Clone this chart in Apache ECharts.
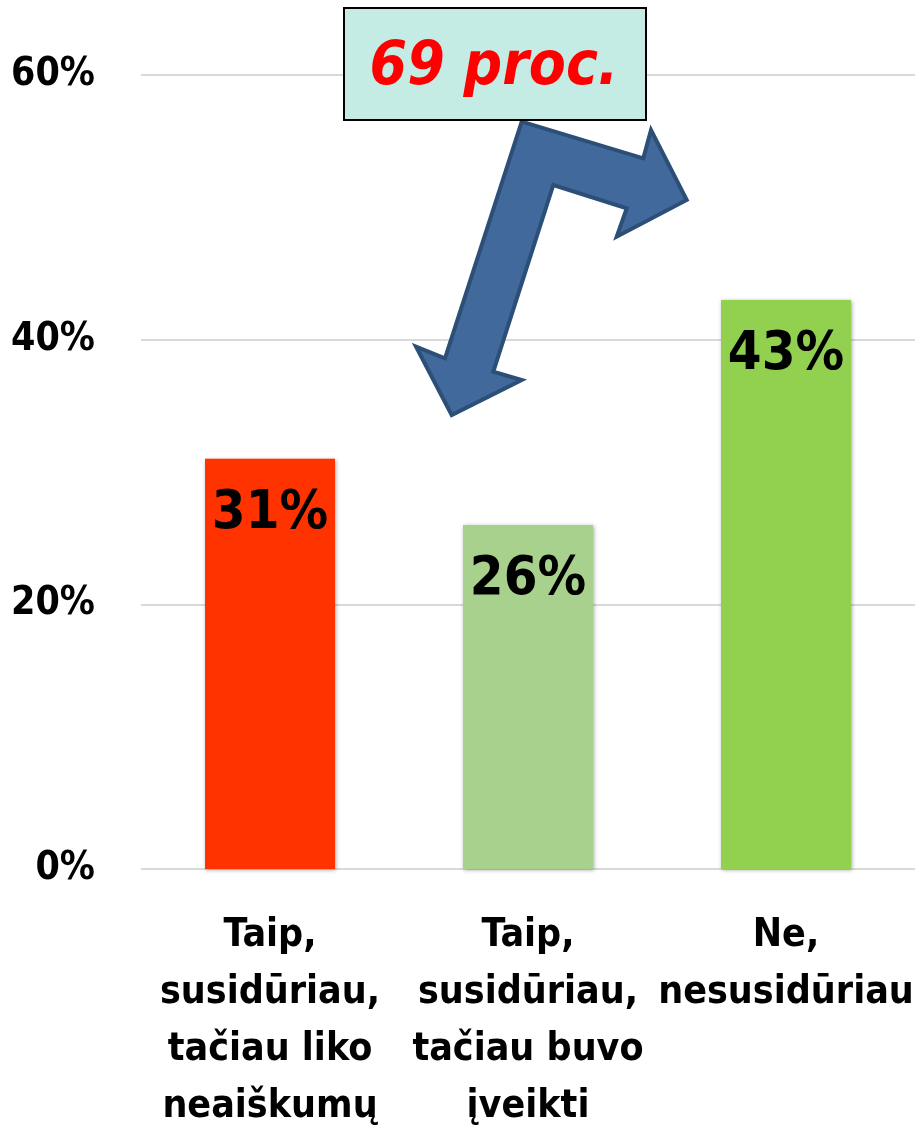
<!DOCTYPE html>
<html>
<head>
<meta charset="utf-8">
<script src="https://cdn.jsdelivr.net/npm/echarts@6/dist/echarts.min.js"></script>
<style>
  html, body { margin: 0; padding: 0; background: #fff; }
  #chart { width: 921px; height: 1131px; }
</style>
</head>
<body>
<div id="chart"></div>
<script>
  // kategorijos ir reikšmės
  var categories = [
    'Taip,\nsusidūriau,\ntačiau liko\nneaiškumų',
    'Taip,\nsusidūriau,\ntačiau buvo\nįveikti',
    'Ne,\nnesusidūriau'
  ];
  var values = [31, 26, 43];
  var barColors = ['#ff3300', '#a9d18e', '#92d050'];
  var yTicks = [0, 20, 40, 60];
  var noteText = '69 proc.';

  var font = '"DejaVu Sans Condensed", "Liberation Sans Narrow", sans-serif';

  var myChart = echarts.init(document.getElementById('chart'));

  var option = {
    animation: false,
    grid: { left: 141, right: 6, top: 75, bottom: 262, outerBoundsMode: 'none' },
    xAxis: {
      type: 'category',
      data: categories,
      axisLine: { show: false },
      axisTick: { show: false },
      axisLabel: {
        interval: 0,
        margin: 38,
        fontFamily: font,
        fontWeight: 'bold',
        fontSize: 39,
        lineHeight: 57,
        color: '#000'
      }
    },
    yAxis: {
      type: 'value',
      min: yTicks[0],
      max: yTicks[yTicks.length - 1],
      interval: 20,
      axisLine: { show: false },
      axisTick: { show: false },
      splitLine: { lineStyle: { color: '#d9d9d9', width: 2 } },
      axisLabel: {
        margin: 46,
        formatter: '{value}%',
        fontFamily: font,
        fontWeight: 'bold',
        fontSize: 39,
        color: '#000'
      }
    },
    series: [{
      type: 'bar',
      barWidth: 130,
      data: values.map(function (v, i) {
        return { value: v, itemStyle: { color: barColors[i] } };
      }),
      itemStyle: {
        shadowBlur: 4,
        shadowColor: 'rgba(0,0,0,0.35)',
        shadowOffsetX: 1,
        shadowOffsetY: 1
      },
      label: {
        show: true,
        position: 'insideTop',
        distance: 28,
        formatter: '{c}%',
        fontFamily: font,
        fontWeight: 'bold',
        fontSize: 54,
        color: '#000'
      }
    }],
    graphic: [
      {
        type: 'polygon',
        z: 100,
        shape: {
          points: [
            [521.7, 121.7], [643.3, 158.3], [651, 130], [686.7, 200],
            [616.7, 236.7], [626.7, 208.3], [553.3, 185], [493.3, 371.7],
            [521.7, 380], [451.7, 415], [416, 346.7], [445, 358.3]
          ]
        },
        style: { fill: '#41699b', stroke: '#2c4f78', lineWidth: 4 }
      },
      {
        type: 'rect',
        z: 101,
        shape: { x: 344, y: 8, width: 302, height: 112 },
        style: { fill: '#c4ece4', stroke: '#000', lineWidth: 2 }
      },
      {
        type: 'text',
        z: 102,
        x: 494,
        y: 68,
        style: {
          text: noteText,
          fontFamily: font,
          fontWeight: 'bold',
          fontStyle: 'italic',
          fontSize: 60,
          fill: '#ff0000',
          align: 'center',
          verticalAlign: 'middle'
        }
      }
    ]
  };

  myChart.setOption(option);
</script>
</body>
</html>
